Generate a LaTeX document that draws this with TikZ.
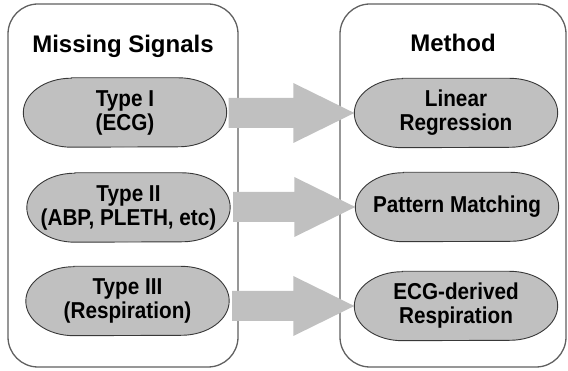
\documentclass[tikz,border=0pt]{standalone}
\usepackage{fontspec}
\setmainfont{Liberation Sans}
\newfontfamily\condfont{Liberation Sans}[FakeStretch=0.9]
\usetikzlibrary{calc}
\pgfdeclarelayer{boxlayer}
\pgfdeclarelayer{arrowlayer}
\pgfdeclarelayer{ovallayer}
\pgfsetlayers{boxlayer,arrowlayer,ovallayer,main}
\definecolor{silverfill}{HTML}{C0C0C0}
\definecolor{boxline}{HTML}{606060}
\definecolor{ovalline}{HTML}{383838}
\tikzset{
  panel/.style={draw=boxline, line width=1.3pt, rounded corners=30pt},
  oval/.style={minimum width=203pt, minimum height=69pt, inner sep=0pt, align=center,
    font=\condfont\bfseries\fontsize{23}{24}\selectfont},
  ovalshape/.style={draw=ovalline, line width=0.9pt, fill=silverfill},
  paneltitle/.style={anchor=base, font=\bfseries\fontsize{24}{28}\selectfont, inner sep=0pt},
  bigarrow/.style={fill=silverfill}
}
\begin{document}
\begin{tikzpicture}[x=1pt,y=-1pt]
\useasboundingbox (0,0) rectangle (568,371);
% panels
\begin{pgfonlayer}{boxlayer}
\draw[panel] (8,4) rectangle (238,367);
\draw[panel] (340,4) rectangle (566,367);
\end{pgfonlayer}
\node[paneltitle] (t1) at (123,53) {Missing Signals};
\node[paneltitle] (t2) at (453,52) {Method};
% ovals
\node[oval] (L1) at (125,112.5) {Type I\\(ECG)};
\node[oval] (L2) at (128.5,207.5) {Type II\\(ABP, PLETH, etc)};
\node[oval] (L3) at (127.5,301) {Type III\\(Respiration)};
\node[oval] (R1) at (456,113) {Linear\\Regression};
\node[oval] (R2) at (457,207) {Pattern Matching};
\node[oval] (R3) at (456,306) {ECG-derived\\Respiration};
\begin{pgfonlayer}{ovallayer}
\foreach \n in {L1,L2,L3,R1,R2,R3}{
  \draw[ovalshape] ([xshift=48pt]\n.north west) -- ([xshift=-48pt]\n.north east)
    arc[start angle=90, end angle=-90, x radius=48pt, y radius=34.5pt]
    -- ([xshift=48pt]\n.south west)
    arc[start angle=-90, end angle=-270, x radius=48pt, y radius=34.5pt] -- cycle;
}
\end{pgfonlayer}
% arrows
\begin{pgfonlayer}{arrowlayer}
\foreach \a/\b/\s in {L1/R1/2, L2/R2/3, L3/R3/3}{
  \path (\a.east |- \b.west) ++(\s,0) coordinate (s-\a);
  \fill[bigarrow] ([yshift=15pt]s-\a) -- ([xshift=-61pt,yshift=15pt]\b.west)
    -- ([xshift=-61pt,yshift=30pt]\b.west) -- (\b.west)
    -- ([xshift=-61pt,yshift=-30pt]\b.west) -- ([xshift=-61pt,yshift=-15pt]\b.west)
    -- ([yshift=-15pt]s-\a) -- cycle;
}
\end{pgfonlayer}
\end{tikzpicture}
\end{document}
